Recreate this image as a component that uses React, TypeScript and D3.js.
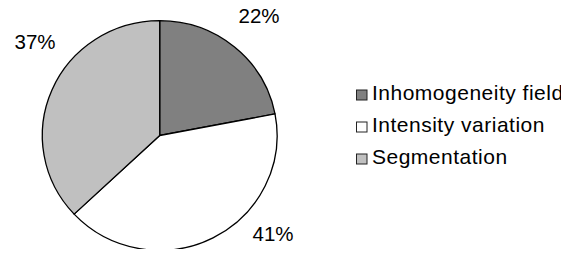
import React, { useEffect, useRef } from 'react';
import * as d3 from 'd3';

const categories = ['Inhomogeneity field', 'Intensity variation', 'Segmentation'];
const shares = [22, 41, 37];
const pctLabels = ['22%', '41%', '37%'];
const fills = ['#808080', '#ffffff', '#c0c0c0'];

const W = 569;
const H = 257;

function PieChart() {
  const node = useRef<SVGSVGElement | null>(null);

  useEffect(() => {
    const svg = d3.select(node.current);
    svg.selectAll('*').remove();

    const cx = 159.7;
    const cy = 135.5;
    const r = 116;

    const data = categories.map((c, i) => ({ name: c, value: shares[i], label: pctLabels[i], fill: fills[i] }));

    const pie = d3.pie<any>().sort(null).value((d) => d.value);
    const arcs = pie(data);
    const arc = d3.arc<any>().innerRadius(0).outerRadius(r);

    const g = svg.append('g')
      .attr('transform', `translate(${cx},${cy}) scale(1.012,0.99)`);

    g.selectAll('path.slice')
      .data(arcs)
      .enter()
      .append('path')
      .attr('class', 'slice')
      .attr('d', arc)
      .attr('fill', (d) => d.data.fill)
      .attr('stroke', '#000')
      .attr('stroke-width', 1.3)
      .attr('stroke-linejoin', 'round');

    // percentage labels sit outside the rim
    const labelPos = [
      { x: 259, y: 23 },
      { x: 273, y: 241 },
      { x: 35, y: 49 },
    ];
    svg.selectAll('text.pct')
      .data(arcs)
      .enter()
      .append('text')
      .attr('class', 'pct')
      .attr('x', (d, i) => labelPos[i].x)
      .attr('y', (d, i) => labelPos[i].y)
      .attr('text-anchor', 'middle')
      .attr('font-family', '"Liberation Sans", Arial, sans-serif')
      .attr('font-size', 20.5)
      .attr('fill', '#000')
      .text((d) => d.data.label);

    // legend
    const legendY = d3.scalePoint<string>().domain(categories).range([100, 164]);
    const lg = svg.append('g');
    const rows = lg.selectAll('g.row')
      .data(data)
      .enter()
      .append('g')
      .attr('class', 'row')
      .attr('transform', (d) => `translate(356,${legendY(d.name)})`);

    rows.append('rect')
      .attr('x', 0.5)
      .attr('y', -10)
      .attr('width', 10.5)
      .attr('height', 10)
      .attr('fill', (d) => d.fill)
      .attr('stroke', '#222')
      .attr('stroke-width', 1);

    rows.append('text')
      .attr('x', 16)
      .attr('y', 0)
      .attr('font-family', '"Liberation Sans", Arial, sans-serif')
      .attr('font-size', 21)
      .attr('letter-spacing', 0.5)
      .attr('fill', '#000')
      .text((d) => d.name);
  }, []);

  return <svg ref={node} width={W} height={H} style={{ display: 'block' }} />;
}

export default function App() {
  return (
    <div style={{ margin: -8 }}>
      <PieChart />
    </div>
  );
}
